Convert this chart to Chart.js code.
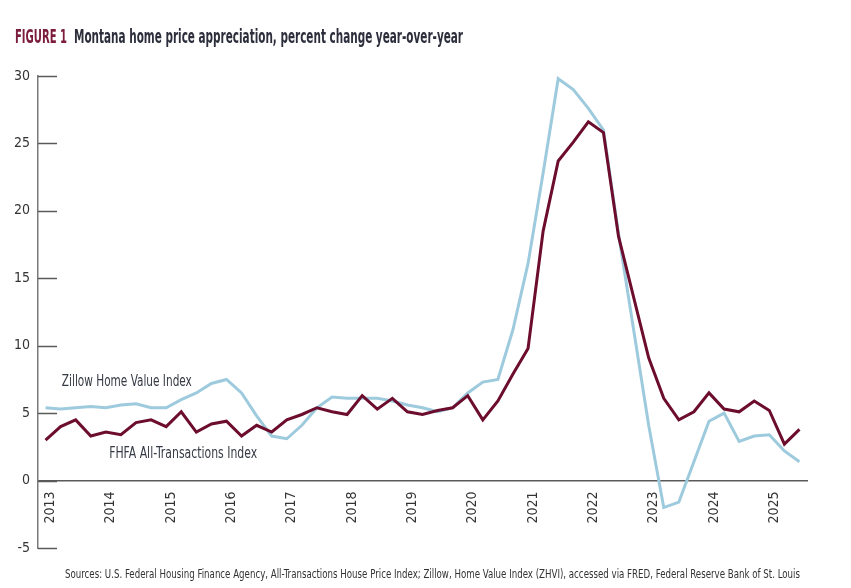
<!DOCTYPE html>
<html>
<head>
<meta charset="utf-8">
<script src="https://cdn.jsdelivr.net/npm/chart.js@4.4.1/dist/chart.umd.min.js"></script>
<style>
  html, body { margin: 0; padding: 0; background: #fff; }
</style>
</head>
<body>
<canvas id="grafico" width="851" height="588"></canvas>
<script>
// DATI (trimestrali, 2013 Q1 - 2025 Q3)
const anni = ['2013','2014','2015','2016','2017','2018','2019','2020','2021','2022','2023','2024','2025'];
const trimestri = anni.flatMap(a => ['Q1','Q2','Q3','Q4'].map(q => a + ' ' + q)).slice(0, 51);

const zillow = [
  5.4, 5.3, 5.4, 5.5, 5.4, 5.6, 5.7, 5.4, 5.4, 6.0, 6.5, 7.2,
  7.5, 6.5, 4.8, 3.3, 3.1, 4.1, 5.4, 6.2, 6.1, 6.1, 6.1, 5.9,
  5.6, 5.4, 5.1, 5.4, 6.5, 7.3, 7.5, 11.2, 16.1, 22.8, 29.8, 29.0,
  27.6, 26.0, 18.3, 11.2, 4.1, -2.0, -1.6, 1.4, 4.4, 5.0, 2.9, 3.3,
  3.4, 2.2, 1.4
];
const fhfa = [
  3.0, 4.0, 4.5, 3.3, 3.6, 3.4, 4.3, 4.5, 4.0, 5.1, 3.6, 4.2,
  4.4, 3.3, 4.1, 3.6, 4.5, 4.9, 5.4, 5.1, 4.9, 6.3, 5.3, 6.1,
  5.1, 4.9, 5.2, 5.4, 6.3, 4.5, 5.9, 7.9, 9.8, 18.5, 23.7, 25.1,
  26.6, 25.8, 18.1, 13.6, 9.1, 6.1, 4.5, 5.1, 6.5, 5.3, 5.1, 5.9,
  5.2, 2.7, 3.8
];

const FONT = '"Liberation Sans Narrow", "DejaVu Sans Condensed", "Roboto", sans-serif';
const GRIGIO = '#5a5a5a';

// testo schiacciato alla larghezza voluta
function scritta(ctx, testo, x, y, larghezza, font, colore, base) {
  ctx.save();
  ctx.font = font;
  ctx.textBaseline = base || 'alphabetic';
  ctx.textAlign = 'left';
  const w = ctx.measureText(testo).width;
  ctx.translate(x, y);
  ctx.scale(larghezza / w, 1);
  ctx.fillStyle = colore;
  ctx.fillText(testo, 0, 0);
  ctx.restore();
}

const pluginTesti = {
  id: 'testi',
  beforeDatasetsDraw(chart) {
    const { ctx, chartArea, scales: { y } } = chart;
    ctx.save();
    ctx.strokeStyle = GRIGIO;
    ctx.lineWidth = 1.5;
    y.ticks.forEach(t => {
      const py = Math.round(y.getPixelForValue(t.value)) + 0.5;
      ctx.beginPath();
      ctx.moveTo(chartArea.left, py);
      ctx.lineTo(chartArea.left + 19, py);
      ctx.stroke();
    });
    ctx.restore();
  },
  afterDraw(chart) {
    const { ctx, scales: { x, y } } = chart;
    scritta(ctx, 'FIGURE 1', 15, 43, 52, 'bold 20px ' + FONT, '#7b1c3c');
    scritta(ctx, 'Montana home price appreciation, percent change year-over-year', 74, 43, 389, 'bold 20px ' + FONT, '#2c2e3c');
    scritta(ctx, 'Zillow Home Value Index', x.getPixelForValue(1.08), y.getPixelForValue(7.3), 130, '15px ' + FONT, '#353a44', 'middle');
    scritta(ctx, 'FHFA All-Transactions Index', x.getPixelForValue(4.22), y.getPixelForValue(1.95), 148, '15px ' + FONT, '#353a44', 'middle');
    scritta(ctx, 'Sources: U.S. Federal Housing Finance Agency, All-Transactions House Price Index; Zillow, Home Value Index (ZHVI), accessed via FRED, Federal Reserve Bank of St. Louis',
      65, 578, 735, '12px ' + FONT, '#333', 'alphabetic');
  }
};

const ctx = document.getElementById('grafico').getContext('2d');
new Chart(ctx, {
  type: 'line',
  data: {
    labels: trimestri,
    datasets: [
      { label: 'FHFA All-Transactions Index', data: fhfa, borderColor: '#6c0d2d', borderWidth: 3, pointRadius: 0, tension: 0, order: 1 },
      { label: 'Zillow Home Value Index', data: zillow, borderColor: '#9dcbdd', borderWidth: 3, pointRadius: 0, tension: 0, order: 2 }
    ]
  },
  options: {
    responsive: false,
    animation: false,
    events: [],
    layout: { padding: { top: 76, bottom: 40, right: 44, left: 0 } },
    plugins: { legend: { display: false }, tooltip: { enabled: false } },
    scales: {
      x: {
        type: 'category',
        offset: true,
        position: { y: 0 },
        grid: { drawOnChartArea: false, drawTicks: true, tickLength: 11, tickColor: 'rgba(0,0,0,0)' },
        border: { display: true, color: GRIGIO, width: 1.5 },
        ticks: {
          autoSkip: false, minRotation: 90, maxRotation: 90, padding: 0, labelOffset: 5,
          color: '#333', font: { family: FONT, size: 14 },
          callback: (v, i) => i % 4 === 0 ? anni[i / 4] : ''
        }
      },
      y: {
        min: -5, max: 30,
        afterFit: s => { s.width = 38; },
        grid: { display: false, drawTicks: false },
        border: { display: true, color: '#7a7a7a', width: 1.5 },
        ticks: { stepSize: 5, padding: 8, color: '#333', font: { family: FONT, size: 14 } }
      }
    }
  },
  plugins: [pluginTesti]
});
</script>
</body>
</html>
